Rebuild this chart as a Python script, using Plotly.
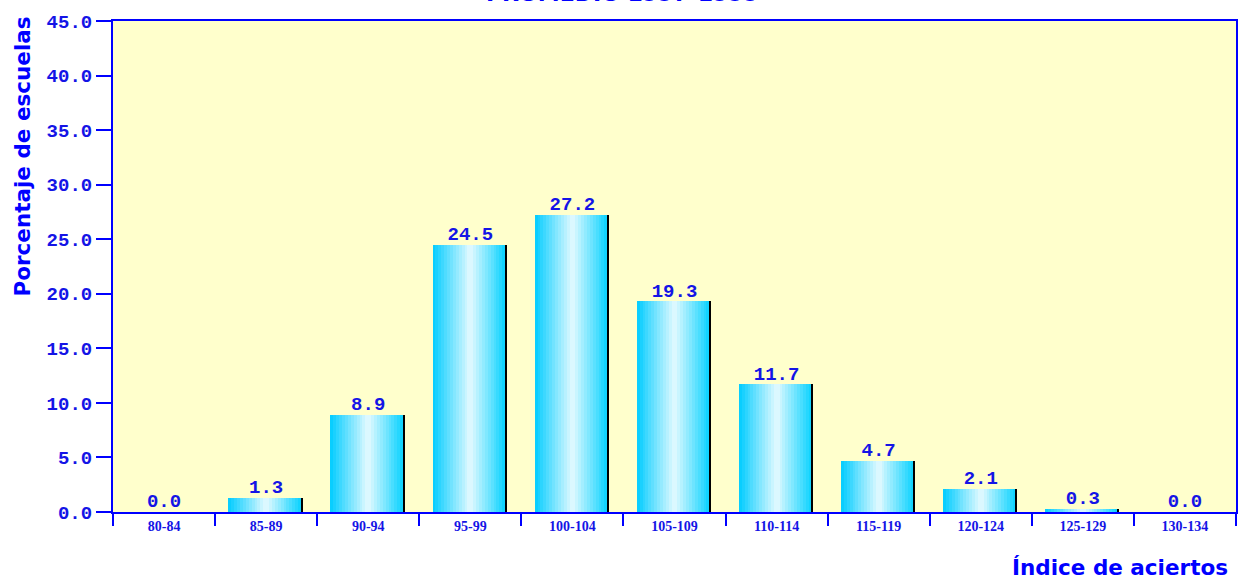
import plotly.graph_objects as go

categories = ["80-84", "85-89", "90-94", "95-99", "100-104", "105-109",
              "110-114", "115-119", "120-124", "125-129", "130-134"]
values = [0.0, 1.3, 8.9, 24.5, 27.2, 19.3, 11.7, 4.7, 2.1, 0.3, 0.0]
labels = ["0.0", "1.3", "8.9", "24.5", "27.2", "19.3", "11.7", "4.7", "2.1", "0.3", "0.0"]
y_ticks = [0, 5, 10, 15, 20, 25, 30, 35, 40, 45]
y_ticktext = ["0.0", "5.0", "10.0", "15.0", "20.0", "25.0", "30.0", "35.0", "40.0", "45.0"]

BLUE = "#0000FF"
TXT = "#1414E6"

fig = go.Figure()

# cylinder-like bars built from narrow vertical strips
bar_w = 0.74
n = 26
strip = bar_w / n
cyan = (0, 204, 255)
white = (228, 250, 255)


def mix(a, b, t):
    return "rgb(%d,%d,%d)" % tuple(round(a[i] + (b[i] - a[i]) * t) for i in range(3))


for i in range(n):
    t = (i + 0.5) / n
    if i == n - 1:
        col = "#000000"
        w = strip * 0.6
        off = -bar_w / 2 + i * strip
    else:
        if t < 0.5:
            col = mix(cyan, white, t / 0.5)
        else:
            col = mix(white, (10, 210, 255), (t - 0.5) / 0.46)
        w = strip * 1.05
        off = -bar_w / 2 + i * strip
    fig.add_trace(go.Bar(
        x=categories, y=values, width=w, offset=off,
        marker=dict(color=col, line=dict(width=0)),
        hoverinfo="skip" if i else "x+y", showlegend=False,
    ))

fig.add_trace(go.Scatter(
    x=categories, y=values, mode="text", text=labels,
    textposition="top center",
    textfont=dict(family="Liberation Mono", size=19, color=TXT, weight="bold"),
    showlegend=False, hoverinfo="skip",
))

fig.update_layout(
    width=1239, height=580,
    margin=dict(l=113, r=1, t=21, b=68),
    paper_bgcolor="white", plot_bgcolor="#FFFFCC",
    barmode="overlay", bargap=0,
    xaxis=dict(
        type="category", range=[-0.5, 10.5], tickson="boundaries",
        ticks="outside", ticklen=12, tickwidth=2, tickcolor=BLUE,
        showline=True, linecolor=BLUE, linewidth=2, mirror=True,
        showgrid=False, zeroline=False,
        tickfont=dict(family="Liberation Serif", size=14, color=TXT, weight="bold"),
    ),
    yaxis=dict(
        range=[0, 45], tickvals=y_ticks, ticktext=y_ticktext,
        ticks="outside", ticklen=15, tickwidth=2, tickcolor=BLUE,
        showline=True, linecolor=BLUE, linewidth=2, mirror=True,
        showgrid=False, zeroline=False,
        tickfont=dict(family="Liberation Mono", size=19, color=TXT, weight="bold"),
    ),
    annotations=[
        dict(text="Porcentaje de escuelas", xref="paper", yref="paper",
             x=-0.081, y=0.724, textangle=-90, showarrow=False,
             xanchor="center", yanchor="middle",
             font=dict(family="DejaVu Sans", size=21.5, color=BLUE, weight="bold")),
        dict(text="Índice de aciertos", xref="paper", yref="paper",
             x=0.9947, y=-0.113, showarrow=False,
             xanchor="right", yanchor="middle",
             font=dict(family="DejaVu Sans", size=21.5, color=BLUE, weight="bold")),
        dict(text="PROMEDIO 1997-1999", xref="paper", yref="paper",
             x=0.454, y=1.027, showarrow=False,
             xanchor="center", yanchor="bottom",
             font=dict(family="DejaVu Sans", size=22, color=BLUE, weight="bold")),
    ],
)

fig.write_html("out.html")
